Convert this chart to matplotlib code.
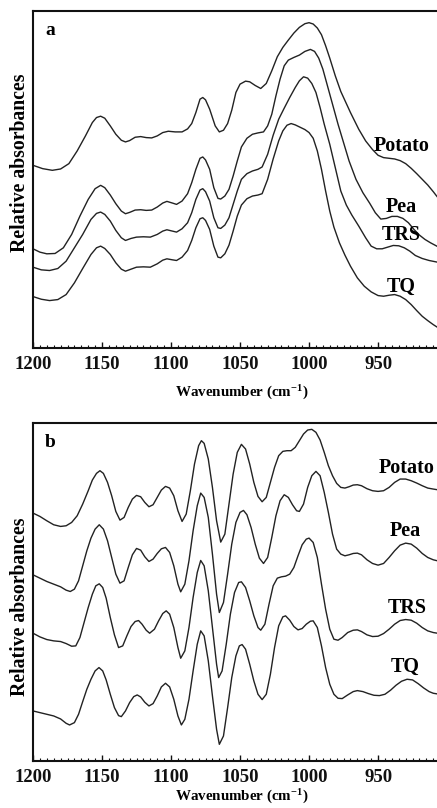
import matplotlib
matplotlib.use("Agg")
import matplotlib.pyplot as plt
from matplotlib.ticker import MultipleLocator, FixedLocator

plt.rcParams['font.family'] = ['Liberation Serif', 'DejaVu Serif']
plt.rcParams['font.weight'] = 'bold'
plt.rcParams['mathtext.fontset'] = 'custom'
plt.rcParams['mathtext.rm'] = 'Liberation Serif:bold'
plt.rcParams['mathtext.it'] = 'Liberation Serif:bold'
plt.rcParams['mathtext.bf'] = 'Liberation Serif:bold'

# ---------------- Panel a (absorbance, arbitrary units) ----------------
a_potato_wn = [1200, 1193, 1186, 1180, 1174, 1168, 1162, 1157, 1154, 1151, 1148, 1144, 1140, 1136, 1133, 1130, 1126, 1122, 1118, 1114,
               1110, 1106, 1102, 1097, 1092, 1088, 1085, 1082, 1079, 1077, 1075, 1072, 1068, 1065, 1062, 1059, 1056, 1053, 1050, 1046,
               1043, 1039, 1035, 1031, 1027, 1023, 1019, 1015, 1011, 1007, 1003, 1000, 997, 994, 991, 988, 985, 981, 977, 973,
               970, 964, 959, 954, 950, 946, 942, 938, 934, 930, 926, 922, 918, 914, 910, 907]
a_potato = [547, 537, 532, 536, 552, 590, 635, 675, 690, 694, 688, 665, 640, 622, 617, 621, 631, 633, 630, 629,
            635, 645, 649, 647, 647, 656, 672, 705, 745, 750, 743, 715, 665, 647, 652, 672, 712, 765, 790, 799,
            797, 786, 777, 792, 830, 872, 900, 922, 943, 960, 971, 974, 970, 958, 938, 905, 868, 815, 768, 732,
            705, 655, 620, 594, 577, 570, 568, 566, 561, 552, 538, 522, 505, 488, 468, 452]

a_pea_wn = [1200, 1195, 1190, 1184, 1178, 1172, 1166, 1160, 1155, 1151, 1148, 1144, 1140, 1136, 1133, 1130, 1126, 1122, 1118, 1114,
            1110, 1106, 1103, 1099, 1096, 1092, 1088, 1085, 1082, 1079, 1077, 1075, 1072, 1069, 1066, 1064, 1061, 1058, 1055, 1052,
            1049, 1045, 1041, 1037, 1033, 1030, 1027, 1024, 1021, 1018, 1015, 1011, 1007, 1003, 999, 996, 993, 990, 987, 983,
            979, 975, 971, 966, 961, 956, 952, 948, 944, 940, 936, 932, 928, 924, 920, 916, 912, 907]
a_pea = [297, 287, 282, 283, 300, 340, 395, 445, 477, 487, 480, 458, 432, 410, 402, 406, 413, 414, 412, 413,
         422, 434, 439, 434, 430, 440, 462, 495, 535, 568, 572, 563, 535, 480, 448, 446, 455, 475, 515, 560,
         602, 628, 640, 644, 647, 665, 700, 755, 805, 845, 862, 870, 877, 888, 894, 888, 868, 835, 790, 730,
         670, 615, 560, 505, 465, 433, 405, 386, 388, 394, 394, 388, 375, 355, 338, 325, 315, 304]

a_trs_wn = [1200, 1194, 1188, 1182, 1176, 1170, 1164, 1158, 1154, 1151, 1148, 1144, 1140, 1136, 1133, 1129, 1125, 1120, 1115, 1110,
            1106, 1103, 1099, 1096, 1092, 1088, 1085, 1082, 1079, 1077, 1075, 1072, 1069, 1066, 1064, 1061, 1058, 1055, 1052, 1049,
            1045, 1041, 1037, 1034, 1030, 1026, 1022, 1018, 1014, 1010, 1007, 1004, 1001, 998, 995, 992, 989, 985, 981, 977,
            973, 969, 964, 959, 955, 951, 947, 943, 939, 935, 931, 927, 923, 918, 913, 907]
a_trs = [242, 234, 232, 238, 260, 300, 340, 385, 403, 407, 400, 380, 352, 330, 322, 328, 332, 333, 332, 340,
         350, 354, 350, 347, 357, 375, 405, 445, 473, 477, 468, 440, 390, 360, 358, 368, 390, 430, 470, 505,
         522, 530, 535, 542, 580, 637, 685, 718, 750, 780, 800, 812, 808, 792, 765, 720, 670, 610, 540, 470,
         428, 398, 365, 330, 305, 297, 297, 302, 307, 306, 300, 290, 277, 268, 262, 257]

a_tq_wn = [1200, 1194, 1188, 1182, 1176, 1170, 1164, 1158, 1154, 1151, 1148, 1144, 1140, 1136, 1133, 1129, 1125, 1120, 1115, 1110,
           1106, 1103, 1099, 1096, 1092, 1088, 1085, 1082, 1079, 1077, 1075, 1072, 1069, 1066, 1064, 1061, 1058, 1055, 1052, 1049,
           1045, 1041, 1037, 1034, 1030, 1026, 1022, 1019, 1016, 1013, 1010, 1006, 1003, 1000, 997, 994, 991, 988, 985, 982,
           978, 974, 970, 965, 960, 955, 950, 946, 942, 938, 934, 930, 926, 922, 918, 914, 910, 907]
a_tq = [154, 146, 142, 145, 160, 195, 238, 280, 300, 305, 298, 280, 255, 236, 230, 236, 242, 243, 242, 252,
        263, 267, 264, 262, 272, 292, 322, 360, 387, 390, 382, 355, 305, 272, 270, 282, 308, 350, 395, 428,
        447, 455, 458, 462, 505, 566, 620, 650, 667, 672, 668, 660, 654, 645, 628, 590, 535, 470, 410, 362,
        315, 278, 245, 210, 185, 168, 157, 155, 158, 160, 155, 145, 130, 112, 95, 82, 70, 62]

# ---------------- Panel b (second derivative, arbitrary units) ----------------
b_potato_wn = [1200, 1195, 1190, 1185, 1180, 1176, 1172, 1168, 1164, 1160, 1157, 1154, 1151.5, 1149, 1146, 1143, 1140, 1137, 1134, 1131,
               1128, 1125, 1122, 1119, 1116, 1113, 1110, 1107, 1104, 1101, 1098, 1095, 1092, 1089, 1086, 1083, 1080, 1078, 1076, 1073,
               1070, 1067, 1064, 1061, 1058, 1055, 1052, 1049, 1046, 1043, 1040, 1037, 1034, 1031, 1028, 1025, 1022, 1019, 1016, 1013,
               1010, 1007, 1004, 1001, 998, 995, 992, 989, 986, 983, 980, 977, 974, 971, 968, 965, 962, 958, 954, 950,
               946, 942, 938, 934, 930, 926, 922, 918, 914, 910, 907]
b_potato = [743, 733, 720, 708, 703, 705, 715, 735, 770, 810, 842, 862, 870, 862, 835, 795, 748, 722, 730, 760,
            785, 796, 792, 775, 762, 768, 790, 812, 823, 818, 795, 750, 718, 740, 810, 890, 945, 960, 952, 905,
            820, 720, 656, 680, 770, 860, 925, 949, 935, 890, 835, 793, 777, 790, 835, 880, 915, 928, 930, 930,
            940, 960, 980, 992, 994, 985, 962, 925, 885, 855, 832, 820, 818, 822, 827, 828, 825, 816, 810, 808,
            810, 820, 835, 845, 845, 840, 833, 825, 818, 815, 813]

b_pea_wn = [1200, 1195, 1190, 1185, 1180, 1176, 1173, 1170, 1167, 1164, 1161, 1158, 1155, 1152, 1149, 1146, 1143, 1140, 1137, 1134,
            1131, 1128, 1125, 1122, 1119, 1116, 1113, 1110, 1107, 1104, 1101, 1098, 1095, 1093, 1090, 1087, 1084, 1081, 1078.5, 1076,
            1073, 1070, 1067, 1065, 1062, 1059, 1056, 1053, 1050, 1047.5, 1045, 1042, 1039, 1036, 1033, 1030, 1027, 1024, 1021, 1018,
            1015, 1012, 1009, 1007, 1004, 1001, 998, 995, 992, 989, 986, 983, 980, 977, 974, 971, 968, 965, 962, 958,
            954, 950, 946, 942, 938, 934, 930, 926, 922, 918, 914, 910, 907]
b_pea = [558, 548, 538, 530, 522, 512, 508, 515, 540, 585, 630, 668, 695, 708, 695, 660, 610, 560, 533, 540,
         580, 618, 637, 632, 612, 598, 605, 622, 636, 640, 625, 585, 530, 507, 530, 600, 690, 765, 803, 790,
         730, 620, 500, 445, 475, 560, 650, 715, 745, 751, 738, 700, 650, 608, 592, 610, 670, 735, 780, 798,
         790, 768, 750, 748, 770, 820, 855, 868, 855, 805, 745, 680, 635, 620, 615, 618, 622, 623, 618, 603,
         592, 587, 592, 610, 630, 647, 653, 650, 638, 622, 610, 603, 600]

b_trs_wn = [1200, 1195, 1190, 1185, 1180, 1176, 1172, 1169, 1166, 1163, 1160, 1157, 1154.5, 1152, 1149.5, 1147, 1144, 1141, 1138, 1135,
            1132, 1129, 1126, 1123.5, 1121, 1118, 1115.5, 1112, 1109, 1106, 1103.5, 1101, 1098, 1095, 1093, 1090, 1087, 1084, 1081, 1078.5,
            1076, 1073, 1070, 1067, 1065.5, 1063, 1060, 1057, 1054, 1051, 1049, 1046, 1043, 1040, 1037, 1035, 1032, 1029, 1026, 1023,
            1020, 1017, 1014, 1011, 1008, 1005, 1002, 1000, 997, 994, 991, 988, 985, 982, 979, 976, 972, 968, 965, 962,
            958, 954, 950, 946, 942, 938, 934, 930, 926, 922, 918, 914, 910, 907]
b_trs = [383, 372, 364, 360, 358, 352, 344, 345, 370, 415, 460, 500, 525, 531, 520, 488, 430, 378, 340, 345,
         375, 403, 418, 421, 410, 392, 383, 395, 420, 442, 450, 440, 400, 340, 308, 330, 400, 490, 565, 601,
         585, 510, 400, 290, 250, 270, 350, 440, 505, 535, 537, 520, 480, 435, 400, 392, 410, 470, 525, 548,
         552, 554, 560, 580, 615, 648, 665, 668, 655, 610, 530, 455, 395, 365, 362, 370, 385, 392, 393, 388,
         378, 373, 374, 382, 395, 410, 421, 424, 422, 413, 400, 390, 385, 383]

b_tq_wn = [1200, 1195, 1190, 1185, 1180, 1176, 1173.5, 1170, 1167, 1164, 1161, 1158, 1155, 1152.2, 1149.5, 1147, 1144, 1141, 1138, 1136,
           1133, 1130, 1127, 1124.5, 1122, 1119, 1116, 1113, 1110, 1107, 1104, 1101, 1098, 1095, 1092.5, 1090, 1087, 1084, 1081, 1078.5,
           1076, 1073, 1070, 1067, 1065, 1062, 1059, 1056, 1053, 1050.5, 1048.5, 1046, 1043, 1040, 1037, 1034, 1031, 1028, 1025, 1022,
           1019, 1017, 1014, 1011, 1008, 1005, 1002, 999, 997, 994, 991, 988, 985, 982, 979, 976, 972, 968, 965, 961,
           957, 953, 949, 945, 941, 937, 933, 929, 925, 921, 917, 913, 910, 907]
b_tq = [150, 145, 140, 135, 126, 113, 108, 115, 140, 178, 215, 245, 270, 280, 270, 243, 200, 160, 136, 133,
        150, 175, 193, 198, 192, 176, 165, 172, 195, 222, 233, 222, 185, 135, 108, 125, 185, 270, 350, 390,
        375, 300, 195, 95, 50, 75, 160, 250, 315, 345, 349, 335, 290, 240, 200, 184, 200, 260, 340, 405,
        432, 435, 422, 403, 393, 397, 410, 419, 420, 400, 345, 280, 230, 200, 188, 187, 198, 208, 211, 208,
        202, 197, 196, 200, 212, 227, 239, 245, 243, 232, 219, 208, 203, 201]

series_names = ['Potato', 'Pea', 'TRS', 'TQ']
xticks = [1200, 1150, 1100, 1050, 1000, 950]

# label anchor positions (wavenumber, value)
a_label_pos = [(933, 604), (933, 422), (933, 337), (933, 182)]
b_label_pos = [(929, 878), (930, 688), (929, 458), (930, 283)]

W, H = 437, 808
fig = plt.figure(figsize=(W / 100, H / 100), dpi=100)

def make_axes(top_px, bottom_px):
    left = 33 / W
    return fig.add_axes([left, 1 - bottom_px / H, 1 - left, (bottom_px - top_px) / H])

def style(ax, ymax, panel, ylab_y, xlab_y):
    ax.set_xlim(1200, 907.3)
    ax.set_ylim(0, ymax)
    ax.spines['right'].set_visible(False)
    for s in ['left', 'top', 'bottom']:
        ax.spines[s].set_linewidth(1.5)
        ax.spines[s].set_color('#111111')
    ax.set_yticks([])
    ax.xaxis.set_major_locator(FixedLocator(xticks))
    ax.xaxis.set_minor_locator(MultipleLocator(5))
    ax.tick_params(axis='x', which='major', direction='in', length=4.5, width=1.0,
                   labelsize=13.5, pad=5.5, colors='#111111', top=False)
    ax.tick_params(axis='x', which='minor', direction='in', length=2.5, width=0.8,
                   colors='#111111', top=False)
    for lab in ax.get_xticklabels():
        lab.set_fontweight('bold')
    ax.set_xlabel(r'Wavenumber (cm$^{-1}$)', fontsize=10.8, fontweight='bold')
    ax.xaxis.label.set_va('center')
    ax.xaxis.set_label_coords(0.517, xlab_y)
    ax.set_ylabel('Relative absorbances', fontsize=14.2, fontweight='bold')
    ax.yaxis.label.set_va('center')
    ax.yaxis.set_label_coords(-0.032, ylab_y)
    ax.text(0.03, 0.968, panel, transform=ax.transAxes, ha='left', va='top',
            fontsize=14, fontweight='bold')

ax_a = make_axes(11, 348)
panel_a = [(a_potato_wn, a_potato), (a_pea_wn, a_pea), (a_trs_wn, a_trs), (a_tq_wn, a_tq)]
for (wn, v) in panel_a:
    ax_a.plot(wn, v, color='#222222', lw=1.0, solid_joinstyle='round')
for name, (x, y) in zip(series_names, a_label_pos):
    ax_a.text(x, y, name, ha='center', va='center', fontsize=14.5, fontweight='bold')
style(ax_a, 1009, 'a', 0.55, -0.134)

ax_b = make_axes(423, 761)
panel_b = [(b_potato_wn, b_potato), (b_pea_wn, b_pea), (b_trs_wn, b_trs), (b_tq_wn, b_tq)]
for (wn, v) in panel_b:
    ax_b.plot(wn, v, color='#222222', lw=1.0, solid_joinstyle='round')
for name, (x, y) in zip(series_names, b_label_pos):
    ax_b.text(x, y, name, ha='center', va='center', fontsize=14.5, fontweight='bold')
style(ax_b, 1013, 'b', 0.457, -0.107)

fig.savefig('out.png', dpi=100)
